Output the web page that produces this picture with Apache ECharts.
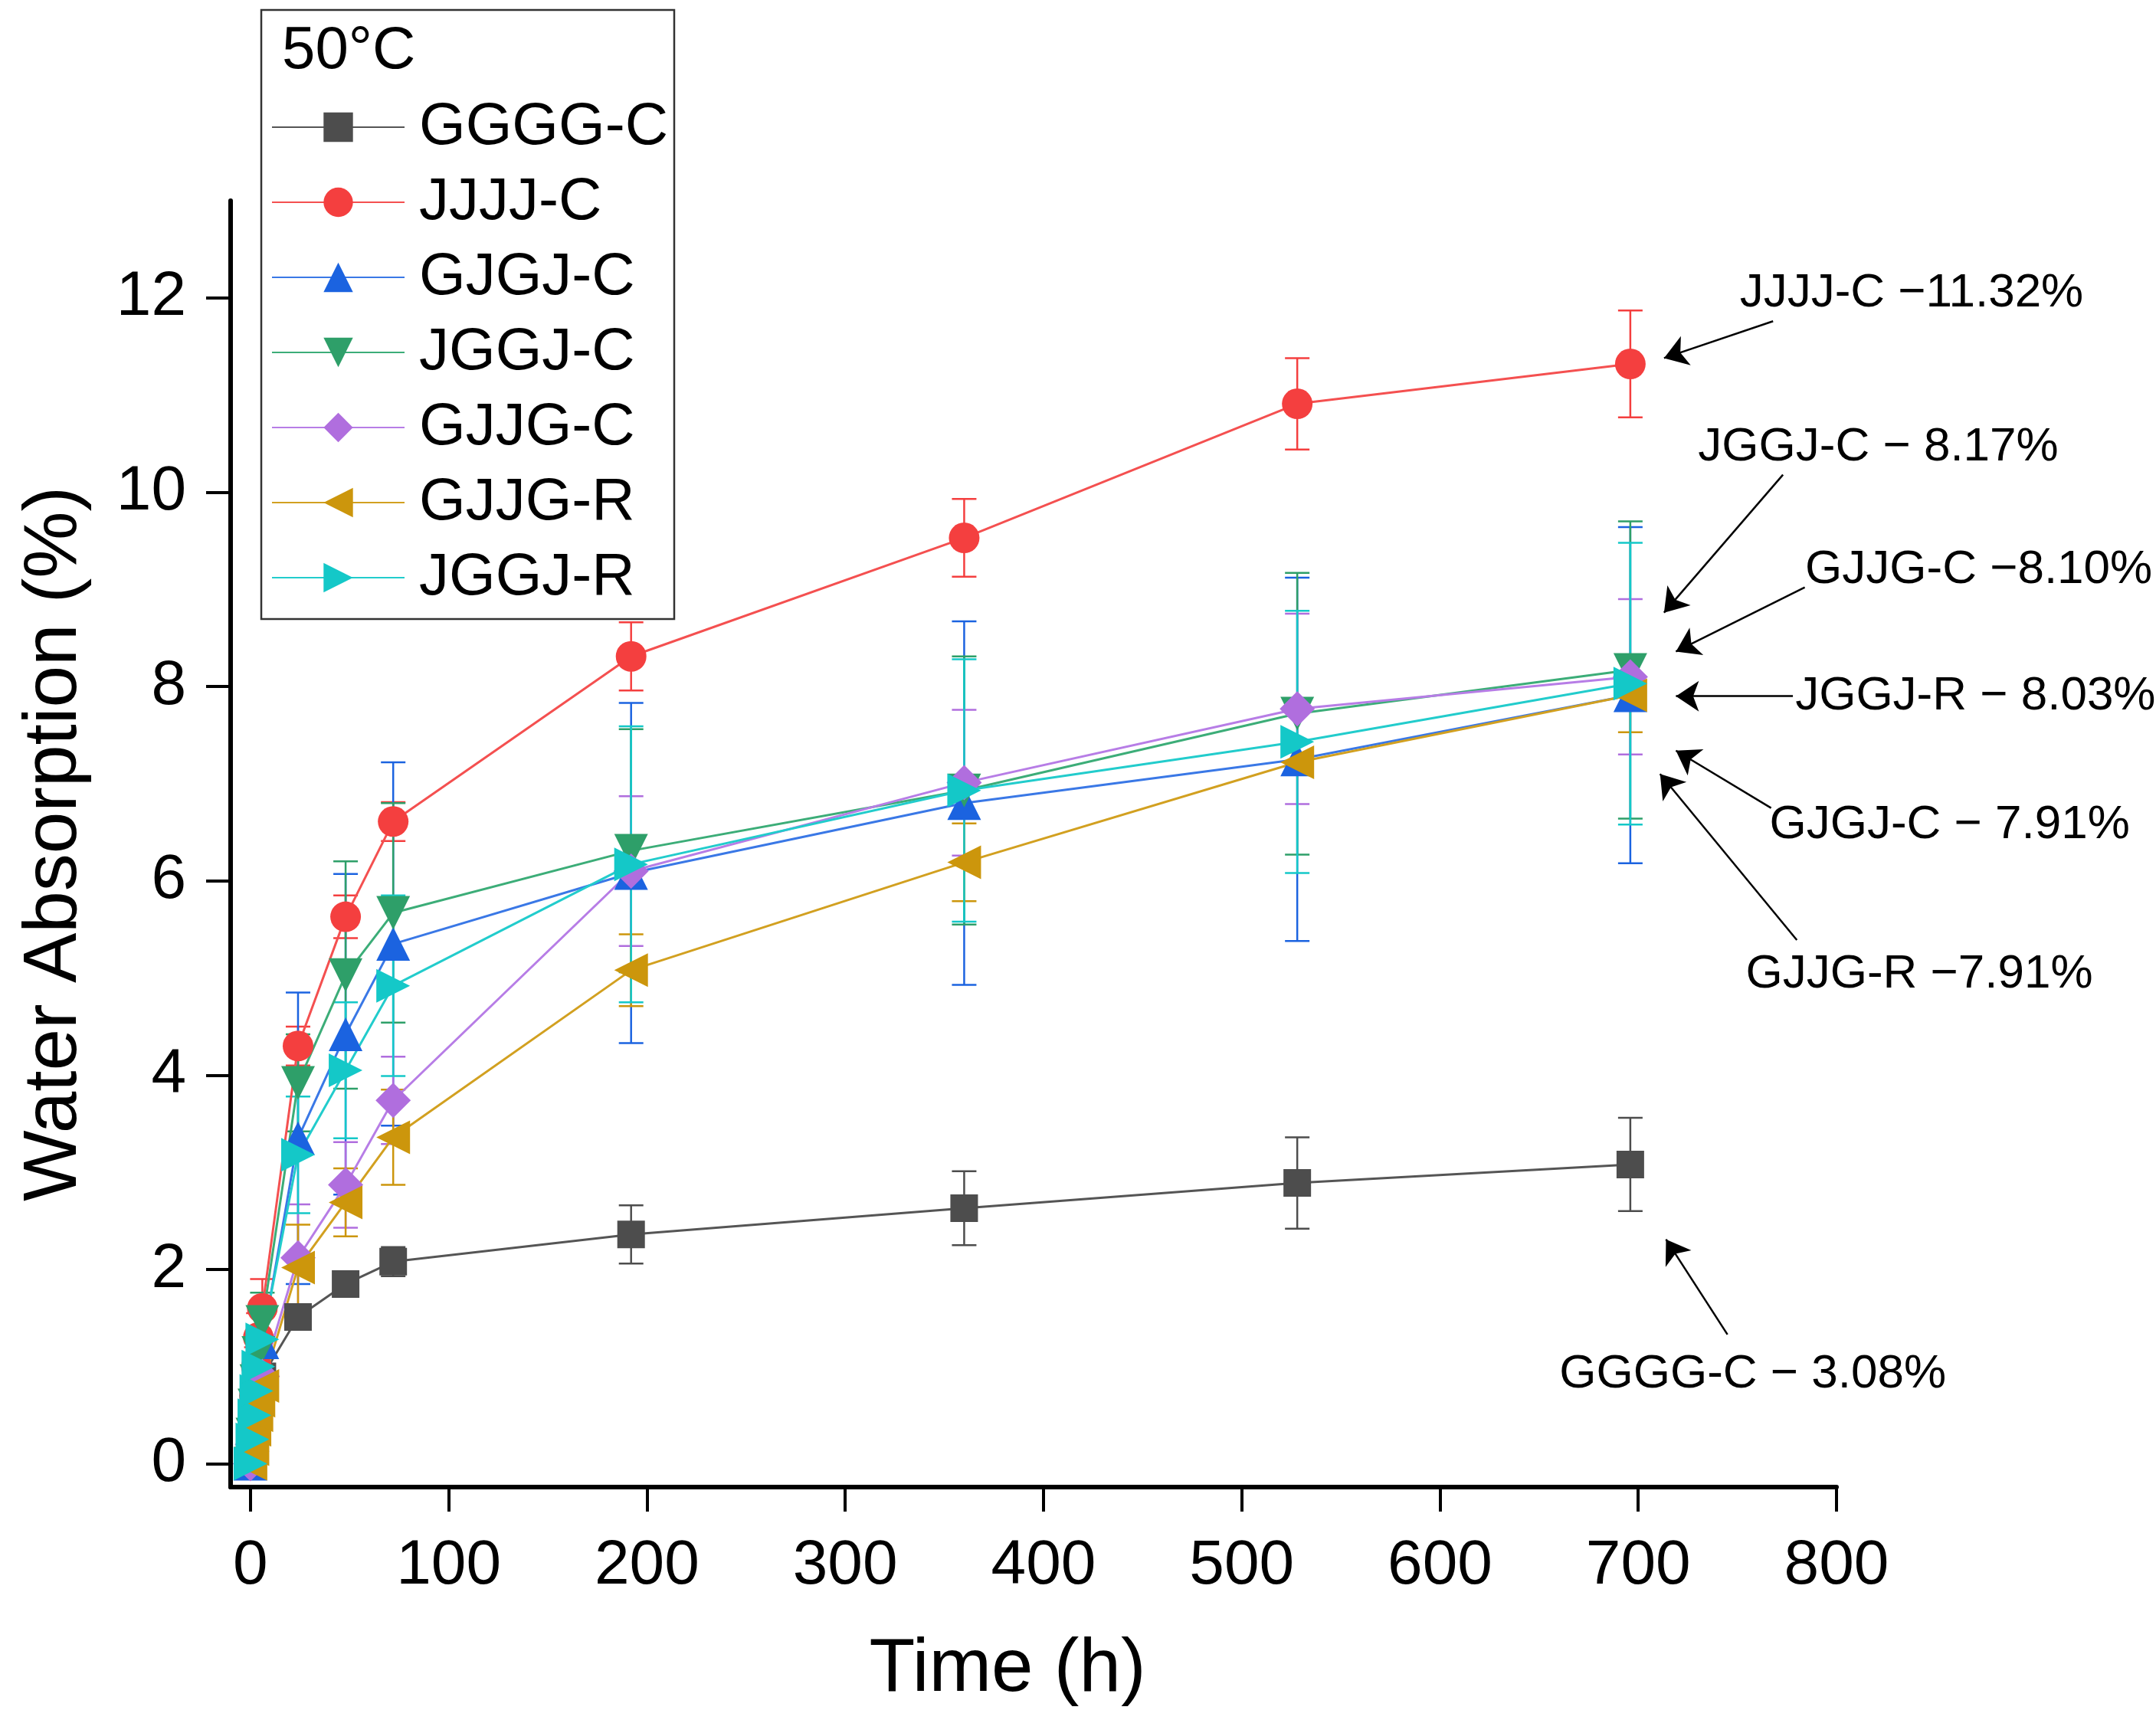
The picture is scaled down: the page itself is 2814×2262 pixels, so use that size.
<!DOCTYPE html>
<html>
<head>
<meta charset="utf-8">
<title>Water absorption at 50°C</title>
<script src="https://cdn.jsdelivr.net/npm/echarts@6.0.0/dist/echarts.min.js"></script>
<style>
  html, body { margin: 0; padding: 0; background: #fff; }
  #chart { width: 2814px; height: 2262px; }
</style>
</head>
<body>
<div id="chart"></div>
<script>
// sampling times (h)
var times = [0, 1, 2, 3, 4, 6, 24, 48, 72, 192, 360, 528, 696];

// water absorption (%) and error (+/-) per laminate
var ggggC    = [0, 0.2, 0.4, 0.55, 0.7, 0.9, 1.51, 1.85, 2.08, 2.36, 2.63, 2.89, 3.08];
var ggggCErr = [0, 0.05, 0.05, 0.08, 0.08, 0.1, 0.1, 0.05, 0.15, 0.3, 0.38, 0.47, 0.48];
var jjjjC    = [0, 0.35, 0.7, 1.0, 1.3, 1.6, 4.30, 5.63, 6.61, 8.31, 9.53, 10.91, 11.32];
var jjjjCErr = [0, 0.1, 0.15, 0.2, 0.25, 0.3, 0.2, 0.22, 0.2, 0.35, 0.4, 0.47, 0.55];
var gjgjC    = [0, 0.3, 0.55, 0.8, 1.0, 1.25, 3.35, 4.42, 5.35, 6.08, 6.80, 7.25, 7.91];
var gjgjCErr = [0, 0.1, 0.15, 0.2, 0.25, 0.3, 1.5, 1.65, 1.87, 1.75, 1.87, 1.87, 1.73];
var jggjC    = [0, 0.3, 0.6, 0.85, 1.14, 1.46, 3.92, 5.03, 5.67, 6.31, 6.93, 7.72, 8.17];
var jggjCErr = [0, 0.1, 0.15, 0.2, 0.25, 0.3, 0.5, 1.17, 1.13, 1.25, 1.38, 1.45, 1.53];
var gjjgC    = [0, 0.2, 0.4, 0.6, 0.75, 0.9, 2.12, 2.87, 3.74, 6.10, 7.01, 7.77, 8.10];
var gjjgCErr = [0, 0.1, 0.1, 0.15, 0.2, 0.2, 0.55, 0.44, 0.45, 0.77, 0.75, 0.98, 0.8];
var gjjgR    = [0, 0.15, 0.35, 0.5, 0.65, 0.8, 2.02, 2.69, 3.36, 5.08, 6.19, 7.22, 7.91];
var gjjgRErr = [0, 0.1, 0.1, 0.15, 0.15, 0.2, 0.44, 0.35, 0.49, 0.37, 0.4, 0.1, 0.38];
var jggjR    = [0, 0.25, 0.5, 0.75, 1.0, 1.28, 3.18, 4.05, 4.92, 6.17, 6.93, 7.43, 8.03];
var jggjRErr = [0, 0.1, 0.15, 0.2, 0.25, 0.3, 0.6, 0.7, 0.93, 1.42, 1.35, 1.35, 1.45];

var xTicks = [0, 100, 200, 300, 400, 500, 600, 700, 800];
var yTicks = [0, 2, 4, 6, 8, 10, 12];

// end-value callouts: text anchor and arrow [from, to], in data units
var calloutText = ["JJJJ-C \u221211.32%", "JGGJ-C \u2212 8.17%", "GJJG-C \u22128.10%",
  "JGGJ-R \u2212 8.03%", "GJGJ-C \u2212 7.91%", "GJJG-R \u22127.91%", "GGGG-C \u2212 3.08%"];
var calloutAt = [[751, 12.05], [730, 10.46], [784, 9.20], [779, 7.90], [766, 6.57], [754, 5.04], [660, 0.92]];
var calloutArrow = [
  [[768, 11.76], [713, 11.38]],
  [[773, 10.18], [713, 8.76]],
  [[784, 9.02], [719, 8.36]],
  [[778, 7.90], [719, 7.90]],
  [[767, 6.75], [719, 7.34]],
  [[780, 5.39], [711, 7.10]],
  [[745, 1.33], [714, 2.31]]
];

var font = "Liberation Sans, Arial, sans-serif";

var groups = [
  { name: "GGGG-C", values: ggggC, err: ggggCErr, color: "#4d4d4d", line: "#555555", symbol: "rect", size: 36 },
  { name: "JJJJ-C", values: jjjjC, err: jjjjCErr, color: "#f43f3f", line: "#f45050", symbol: "circle", size: 40 },
  { name: "GJGJ-C", values: gjgjC, err: gjgjCErr, color: "#1b63e0", line: "#3a78e6", symbol: "triangle", size: 44 },
  { name: "JGGJ-C", values: jggjC, err: jggjCErr, color: "#2e9f69", line: "#3cad78", symbol: "path://M0,0L10,0L5,9Z", size: 44 },
  { name: "GJJG-C", values: gjjgC, err: gjjgCErr, color: "#b06ede", line: "#b77de6", symbol: "diamond", size: 46 },
  { name: "GJJG-R", values: gjjgR, err: gjjgRErr, color: "#cc960c", line: "#d2a020", symbol: "path://M0,5L9,0L9,10Z", size: 44 },
  { name: "JGGJ-R", values: jggjR, err: jggjRErr, color: "#14c8c8", line: "#22cccc", symbol: "path://M0,0L9,5L0,10Z", size: 44 }
];

var myChart = echarts.init(document.getElementById("chart"));

function errorBars(g) {
  return {
    name: g.name + " err",
    type: "custom",
    clip: false,
    silent: true,
    z: 2,
    data: times.map(function (t, i) {
      return [t, g.values[i] - g.err[i], g.values[i] + g.err[i]];
    }),
    encode: { x: 0, y: [1, 2] },
    renderItem: function (params, api) {
      if (api.value(2) - api.value(1) <= 0) return null;
      var lo = api.coord([api.value(0), api.value(1)]);
      var hi = api.coord([api.value(0), api.value(2)]);
      var w = 16;
      var style = { stroke: g.color, lineWidth: 2.5 };
      return {
        type: "group",
        children: [
          { type: "line", shape: { x1: lo[0], y1: lo[1], x2: hi[0], y2: hi[1] }, style: style },
          { type: "line", shape: { x1: lo[0] - w, y1: lo[1], x2: lo[0] + w, y2: lo[1] }, style: style },
          { type: "line", shape: { x1: hi[0] - w, y1: hi[1], x2: hi[0] + w, y2: hi[1] }, style: style }
        ]
      };
    }
  };
}

var series = [];
groups.forEach(function (g) {
  series.push(errorBars(g));
  series.push({
    name: g.name,
    type: "line",
    data: times.map(function (t, i) { return [t, g.values[i]]; }),
    symbol: g.symbol,
    symbolSize: g.size,
    itemStyle: { color: g.color },
    lineStyle: { color: g.line, width: 3 },
    emphasis: { disabled: true },
    z: 3
  });
});

// callouts
series.push({
  name: "callouts",
  type: "line",
  data: [],
  clip: false,
  silent: true,
  z: 5,
  markPoint: {
    symbol: "circle",
    symbolSize: 1,
    itemStyle: { color: "rgba(0,0,0,0)" },
    label: {
      show: true,
      position: "right",
      distance: 0,
      formatter: "{b}",
      color: "#000",
      fontFamily: font,
      fontSize: 62
    },
    data: calloutText.map(function (txt, i) {
      return { name: txt, coord: calloutAt[i] };
    })
  },
  markLine: {
    symbol: ["none", "arrow"],
    symbolSize: 30,
    label: { show: false },
    lineStyle: { color: "#000", width: 2.5, type: "solid" },
    data: calloutArrow.map(function (a) {
      return [{ coord: a[0] }, { coord: a[1] }];
    })
  }
});

var option = {
  animation: false,
  backgroundColor: "#fff",
  textStyle: { fontFamily: font, color: "#000" },
  title: {
    text: "50°C",
    left: 368,
    top: 28,
    padding: 0,
    textStyle: { fontFamily: font, fontSize: 78, fontWeight: "normal", color: "#000" }
  },
  legend: {
    data: groups.map(function (g) { return g.name; }),
    orient: "vertical",
    left: 341,
    top: 13,
    padding: [114, 8, 15, 13],
    borderColor: "#333",
    borderWidth: 2.5,
    itemWidth: 173,
    itemHeight: 48,
    itemGap: 20,
    selectedMode: false,
    textStyle: { fontFamily: font, fontSize: 78, color: "#000", padding: [0, 0, 0, 14] }
  },
  grid: { left: 301, right: 417, top: 262, bottom: 321 },
  xAxis: {
    type: "value",
    min: -10,
    max: 800,
    name: "Time (h)",
    nameLocation: "middle",
    nameGap: 190,
    nameTextStyle: { fontFamily: font, fontSize: 98, color: "#000", padding: [0, 68, 0, 0] },
    axisLine: { onZero: false, lineStyle: { color: "#000", width: 6 } },
    axisTick: { show: true, length: 32, customValues: xTicks, lineStyle: { color: "#000", width: 4 } },
    axisLabel: { customValues: xTicks, margin: 62, fontSize: 82, color: "#000", fontFamily: font },
    splitLine: { show: false }
  },
  yAxis: {
    type: "value",
    min: -0.24,
    max: 13,
    name: "Water Absorption (%)",
    nameLocation: "middle",
    nameGap: 180,
    nameTextStyle: { fontFamily: font, fontSize: 98, color: "#000" },
    axisLine: { show: true, onZero: false, lineStyle: { color: "#000", width: 6 } },
    axisTick: { show: true, length: 32, customValues: yTicks, lineStyle: { color: "#000", width: 4 } },
    axisLabel: { customValues: yTicks, margin: 58, fontSize: 82, color: "#000", fontFamily: font },
    splitLine: { show: false }
  },
  series: series
};

myChart.setOption(option);
window.addEventListener("resize", function () {
  myChart.resize();
});
</script>
</body>
</html>
